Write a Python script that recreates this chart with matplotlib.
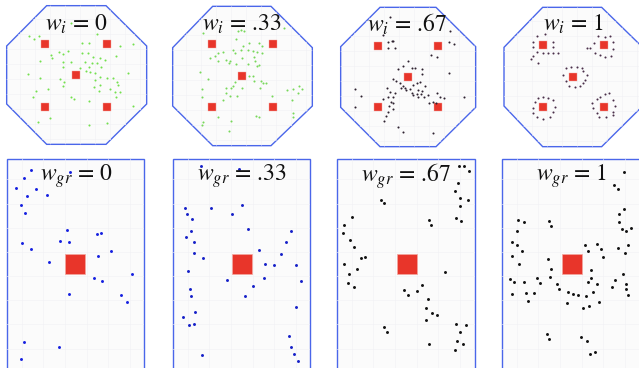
import matplotlib.pyplot as plt
import numpy as np
from matplotlib.patches import Polygon

plt.rcParams['mathtext.fontset'] = 'stix'

# each panel is a crop of the figure: (left, top, width, height) in pixels,
# drawn in its own coords at 3 units per pixel
crops_top = [(0, 0, 160, 150), (160, 0, 170, 150), (330, 0, 170, 150), (490, 0, 149, 150)]
crops_bot = [(0, 150, 165, 218), (165, 150, 170, 218), (330, 150, 170, 218), (495, 150, 144, 218)]

weights = ["0", ".33", ".67", "1"]
titles_top = [r"$w_i$ = " + w for w in weights]
titles_bot = [r"$w_{gr}$ = " + w for w in weights]
title_x_top = [228, 245, 230, 250]
title_x_bot = [228, 229, 229, 228]

# arena outlines
octagons = [
    [(140, 17), (318, 17), (440, 138), (440, 312), (318, 433), (140, 433), (20, 312), (20, 138)],
    [(158, 19), (333, 19), (457, 143), (457, 318), (333, 437), (158, 437), (38, 318), (38, 143)],
    [(150, 22), (318, 22), (437, 140), (437, 322), (318, 440), (150, 440), (32, 322), (32, 140)],
    [(158, 22), (335, 22), (458, 142), (458, 318), (335, 440), (158, 440), (42, 318), (42, 142)],
]
rects = [(22, 433, 28), (25, 436, 28), (22, 436, 28), (22, 470, 28)]

# targets (red squares)
targets_top = [
    [(135, 133), (320, 133), (228, 226), (135, 320), (320, 320)],
    [(155, 133), (338, 133), (246, 228), (155, 320), (338, 320)],
    [(145, 137), (323, 137), (233, 230), (145, 322), (323, 322)],
    [(160, 135), (343, 135), (250, 230), (160, 322), (343, 322)],
]
targets_bot = [(226, 342), (230, 342), (230, 342), (230, 342)]

# agents
agents_top = [
    [(213, 70), (88, 107), (103, 117), (118, 107), (292, 103), (245, 130), (268, 128), (360, 138),
     (400, 133), (153, 165), (155, 175), (178, 157), (203, 153), (190, 163), (245, 160), (265, 160),
     (280, 170), (300, 175), (315, 180), (120, 183), (190, 185), (213, 187), (255, 185), (275, 190),
     (290, 188), (188, 200), (240, 203), (268, 200), (303, 200), (258, 212), (270, 215), (285, 218),
     (348, 167), (85, 221), (383, 220), (120, 235), (180, 238), (192, 245), (188, 257), (300, 232),
     (320, 233), (340, 233), (350, 245), (285, 240), (300, 255), (355, 255), (283, 260), (298, 272),
     (330, 268), (345, 275), (360, 275), (108, 272), (143, 268), (98, 291), (348, 290), (213, 290),
     (222, 298), (268, 303), (400, 317), (150, 355), (115, 365), (268, 375), (322, 368)],
    [(128, 100), (233, 93), (243, 90), (253, 92), (373, 85), (228, 118), (268, 130), (298, 130),
     (305, 137), (248, 138), (265, 150), (280, 152), (290, 155), (305, 160), (218, 150), (225, 158),
     (243, 150), (188, 157), (175, 160), (165, 168), (150, 173), (245, 175), (283, 170), (285, 183),
     (175, 183), (198, 180), (210, 182), (208, 190), (228, 193), (265, 192), (290, 198), (298, 196),
     (120, 215), (145, 237), (268, 228), (280, 228), (283, 243), (303, 243), (318, 248), (310, 250),
     (300, 263), (225, 245), (220, 258), (213, 263), (197, 265), (245, 265), (198, 280), (210, 287),
     (230, 288), (190, 300), (125, 268), (125, 292), (335, 287), (380, 270), (400, 267), (418, 258),
     (425, 268), (413, 278), (395, 300), (398, 340), (398, 350), (288, 347), (298, 350), (173, 352),
     (213, 362), (130, 365), (125, 375), (208, 393)],
    [(180, 50), (160, 105), (185, 123), (173, 125), (188, 123), (175, 143), (195, 143), (360, 93),
     (358, 125), (372, 133), (302, 165), (320, 170), (235, 183), (218, 197), (203, 207), (245, 203),
     (255, 205), (275, 207), (275, 222), (188, 237), (198, 243), (270, 245), (260, 250), (250, 255),
     (210, 250), (218, 258), (213, 265), (225, 265), (240, 268), (228, 270), (285, 258), (265, 270),
     (275, 272), (170, 265), (180, 275), (195, 278), (245, 280), (250, 285), (265, 290), (273, 282),
     (260, 282), (282, 290), (295, 285), (320, 278), (330, 292), (343, 295), (188, 290), (175, 290),
     (160, 297), (183, 305), (190, 308), (310, 305), (298, 308), (318, 308), (178, 318), (190, 328),
     (173, 335), (168, 348), (163, 362), (75, 268), (93, 288), (75, 320), (358, 220), (403, 292),
     (205, 382), (218, 395), (310, 398)],
    [(140, 108), (165, 103), (128, 125), (130, 140), (188, 125), (188, 140), (140, 155), (160, 160),
     (175, 158), (190, 158), (205, 158), (123, 178), (145, 188), (130, 168),
     (323, 107), (345, 110), (360, 108), (312, 128), (300, 145), (368, 125), (370, 148), (315, 160),
     (330, 165), (345, 170), (362, 168), (290, 145),
     (228, 203), (243, 200), (260, 200), (275, 203), (218, 225), (280, 213), (290, 225), (285, 240),
     (228, 243), (238, 258), (255, 262), (270, 258), (280, 250),
     (145, 293), (160, 290), (175, 293), (190, 300), (130, 323), (195, 320), (190, 335), (180, 350),
     (158, 358), (140, 350), (128, 340), (135, 305),
     (330, 290), (345, 283), (358, 280), (320, 298), (305, 310), (370, 300), (375, 318), (370, 335),
     (308, 325), (320, 340), (328, 352), (348, 350), (368, 345)],
]
agents_bot = [
    [(92, 60), (210, 65), (73, 83), (48, 115), (80, 138), (108, 117), (140, 135), (63, 165), (75, 190),
     (200, 240), (290, 252), (303, 249), (180, 272), (208, 277), (66, 280), (93, 298), (332, 303),
     (293, 318), (148, 336), (283, 384), (307, 393), (395, 373), (207, 431), (363, 435), (380, 455),
     (72, 575), (177, 591), (62, 628)],
    [(107, 48), (222, 57), (60, 175), (67, 193), (82, 208), (138, 175), (230, 166), (200, 193),
     (250, 238), (78, 243), (63, 262), (87, 277), (378, 244), (362, 276), (283, 301), (347, 311),
     (87, 310), (114, 323), (300, 342), (327, 346), (392, 344), (70, 363), (186, 389), (297, 385),
     (408, 392), (265, 408), (76, 417), (77, 439), (241, 438), (393, 471), (90, 487), (53, 500),
     (73, 526), (88, 522), (371, 559), (378, 590), (387, 611), (400, 632), (110, 616)],
    [(386, 48), (402, 47), (418, 64), (385, 100), (374, 123), (390, 143), (415, 150), (391, 167),
     (377, 205), (392, 212), (154, 151), (163, 160), (66, 202), (297, 210), (304, 226), (41, 225),
     (38, 249), (60, 270), (71, 291), (92, 324), (105, 320), (41, 342), (80, 356), (57, 371),
     (54, 398), (73, 412), (345, 367), (277, 404), (221, 419), (233, 434), (260, 424), (293, 447),
     (288, 475), (307, 490), (322, 494), (289, 509), (379, 522), (409, 526), (391, 546), (163, 532),
     (170, 545), (380, 574), (400, 582), (297, 581), (374, 601)],
    [(388, 67), (357, 105), (368, 117), (386, 176), (372, 193), (372, 216), (380, 238), (393, 242),
     (409, 235), (70, 210), (87, 217), (162, 213), (169, 228), (66, 243), (50, 277), (66, 285),
     (80, 302), (51, 318), (73, 343), (270, 284), (278, 303), (307, 283), (317, 297), (323, 320),
     (370, 293), (391, 308), (399, 286), (158, 326), (167, 356), (165, 381), (288, 360), (288, 384),
     (279, 397), (307, 401), (359, 389), (351, 411), (384, 373), (393, 401), (393, 416), (399, 435),
     (44, 386), (57, 395), (87, 396), (127, 384), (135, 398), (185, 403), (193, 418), (220, 425),
     (235, 432), (250, 436), (273, 438), (295, 425), (217, 458), (265, 475), (283, 467), (313, 455),
     (50, 432), (92, 428), (116, 430), (99, 452), (155, 552), (162, 566), (259, 561), (276, 574),
     (285, 613), (300, 605)],
]

agent_colors_top = ['#74e04e', '#78d85a', '#2e2230', '#4a2f4a']
agent_colors_bot = ['#1520e0', '#1520c8', '#111111', '#111111']
edge_blue = '#4a66ea'
red = '#e8352a'
W, H = 639, 368

fig = plt.figure(figsize=(W / 100, H / 100), dpi=100)
fig.patch.set_facecolor('white')


def make_ax(crop):
    x, y, w, h = crop
    ax = fig.add_axes([x / W, 1 - (y + h) / H, w / W, h / H])
    ax.set_xlim(0, 3 * w)
    ax.set_ylim(3 * h, 0)
    ax.axis('off')
    ax.patch.set_alpha(0)
    return ax


def faint_grid(ax, shape, x0, y0, dx, dy):
    for gx in np.arange(x0, 480, dx):
        ln, = ax.plot([gx, gx], [0, 700], color='#f1f1f5', lw=0.4, zorder=1)
        ln.set_clip_path(shape)
    for gy in np.arange(y0, 700, dy):
        ln, = ax.plot([0, 480], [gy, gy], color='#f1f1f5', lw=0.4, zorder=1)
        ln.set_clip_path(shape)


for i in range(4):
    ax = make_ax(crops_top[i])
    oct_ = Polygon(octagons[i], closed=True, facecolor='#fbfbfb', edgecolor=edge_blue, lw=1.0, zorder=0)
    ax.add_patch(oct_)
    faint_grid(ax, oct_, octagons[i][6][0] + 40, octagons[i][0][1] + 40, 45, 45)
    tx, ty = zip(*targets_top[i])
    ax.scatter(tx, ty, s=33, marker='s', color=red, edgecolors='#f3a8a0', linewidths=0.3, zorder=3)
    px, py = zip(*agents_top[i])
    ax.scatter(px, py, s=2.2, color=agent_colors_top[i], linewidths=0, zorder=4)
    ax.text(title_x_top[i], 72, titles_top[i], fontsize=17, family='STIXGeneral',
            ha='center', va='center', color='#111111', zorder=5)

for i in range(4):
    ax = make_ax(crops_bot[i])
    left, right, top = rects[i]
    rect = Polygon([(left, top), (right, top), (right, 800), (left, 800)], closed=True,
                   facecolor='#fbfbfb', edgecolor=edge_blue, lw=1.0, zorder=0)
    ax.add_patch(rect)
    faint_grid(ax, rect, left + 43, top + 60, 65, 72.5)
    tx, ty = targets_bot[i]
    ax.scatter([tx], [ty], s=228, marker='s', color=red, edgecolors='#f3a8a0', linewidths=0.5, zorder=3)
    px, py = zip(*agents_bot[i])
    ax.scatter(px, py, s=4.5, color=agent_colors_bot[i], linewidths=0, zorder=4)
    ax.text(title_x_bot[i], 78, titles_bot[i], fontsize=17, family='STIXGeneral',
            ha='center', va='center', color='#111111', zorder=5)

fig.savefig('out.png', dpi=100)
